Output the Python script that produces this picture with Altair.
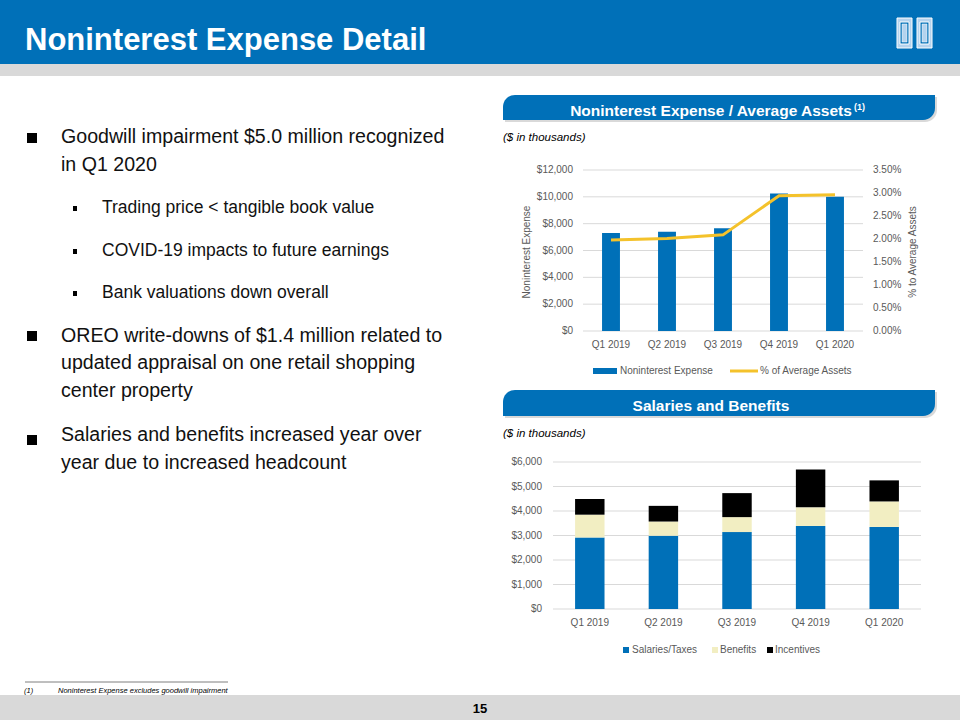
import altair as alt
import pandas as pd

# ---------------- data ----------------
quarters = ["Q1 2019", "Q2 2019", "Q3 2019", "Q4 2019", "Q1 2020"]
noninterest_expense = [7300, 7400, 7650, 10250, 10000]
pct_of_avg_assets = [0.0198, 0.0201, 0.0209, 0.0294, 0.0296]
salaries_taxes = [2920, 2990, 3140, 3390, 3350]
benefits = [930, 580, 610, 760, 1040]
incentives = [640, 640, 980, 1540, 860]

top_left_ticks = [0, 2000, 4000, 6000, 8000, 10000, 12000]
top_right_ticks = [0, 0.005, 0.01, 0.015, 0.02, 0.025, 0.03, 0.035]
bottom_ticks = [0, 1000, 2000, 3000, 4000, 5000, 6000]

components = ["Salaries/Taxes", "Benefits", "Incentives"]
component_colors = ["#0070B8", "#F2EEC2", "#000000"]

slide_title = "Noninterest Expense Detail"
top_title = "Noninterest Expense / Average Assets"
bottom_title = "Salaries and Benefits"
units_note = "($ in thousands)"
footnote = "Noninterest Expense excludes goodwill impairment"
page_number = "15"

bullet_lines = [
    "Goodwill impairment $5.0 million recognized",
    "in Q1 2020",
    "Trading price < tangible book value",
    "COVID-19 impacts to future earnings",
    "Bank valuations down overall",
    "OREO write-downs of $1.4 million related to",
    "updated appraisal on one retail shopping",
    "center property",
    "Salaries and benefits increased year over",
    "year due to increased headcount",
]
bullet_levels = [0, 0, 1, 1, 1, 0, 0, 0, 0, 0]

# ---------------- layout (pixels) ----------------
F = "Liberation Sans, Arial, sans-serif"
BLUE = "#0070B8"
GREY_TXT = "#595959"
GRID = "#D9D9D9"
LBL = 10

line_baselines = [143, 171, 213, 256, 298, 342, 369, 397, 441, 469]
main_bullet_tops = [133, 331, 435]
sub_bullet_tops = [206, 249, 291]

one = pd.DataFrame({"k": [0]})


def rect(x, x2, y, y2, **kw):
    return alt.Chart(one).mark_rect(**kw).encode(
        x=alt.value(x), x2=alt.value(x2), y=alt.value(y), y2=alt.value(y2)
    )


def txt(s, x, y, size, color="#000000", weight="normal", style="normal",
        align="left", baseline="alphabetic", angle=0):
    return alt.Chart(pd.DataFrame({"t": [s]})).mark_text(
        font=F, fontSize=size, fontWeight=weight, fontStyle=style, color=color,
        align=align, baseline=baseline, angle=angle
    ).encode(x=alt.value(x), y=alt.value(y), text="t:N")


layers = []

# header / footer bands
layers.append(rect(0, 960, 0, 64, color=BLUE))
layers.append(rect(0, 960, 64, 76, color="#D9D9D9"))
layers.append(rect(0, 960, 695, 720, color="#D9D9D9"))
layers.append(txt(slide_title, 25, 49.5, 31, color="#FFFFFF", weight="bold"))
layers.append(txt(page_number, 480, 713, 13, weight="bold", align="center"))

# logo (two pillars)
for px in (897, 917):
    layers.append(rect(px, px + 15, 18, 48, color="#B4D3EE", stroke="#FFFFFF", strokeWidth=1))
    layers.append(rect(px + 3, px + 12, 22, 44, fill=BLUE, stroke="#FFFFFF", strokeWidth=1))
    layers.append(rect(px + 5, px + 10, 24, 42, fill="#B4D3EE", stroke="#FFFFFF", strokeWidth=0.5))

# footnote
layers.append(alt.Chart(one).mark_rule(color="#7F7F7F", strokeWidth=1).encode(
    x=alt.value(25), x2=alt.value(228), y=alt.value(682)))
layers.append(txt("(1)", 24, 693, 7.5, style="italic"))
layers.append(txt(footnote, 58, 693, 7.5, style="italic"))

# bullets
for t in main_bullet_tops:
    layers.append(rect(27, 37, t, t + 10, color="#000000"))
for t in sub_bullet_tops:
    layers.append(rect(73, 77, t, t + 5, color="#000000"))
for s, lvl, yb in zip(bullet_lines, bullet_levels, line_baselines):
    layers.append(txt(s, 61 if lvl == 0 else 102, yb, 19.6 if lvl == 0 else 17.5, color="#111111"))

# section header bands
for (y0, y1, title, tb, nb) in ((95, 120, top_title, 115.5, 141), (390, 416, bottom_title, 411, 437)):
    layers.append(rect(505, 937, y0 + 2, y1 + 2, color="#BFBFBF", opacity=0.6,
                       cornerRadiusTopLeft=12, cornerRadiusBottomRight=12))
    layers.append(rect(503, 935, y0, y1, color=BLUE,
                       cornerRadiusTopLeft=12, cornerRadiusBottomRight=12))
    layers.append(txt(title, 711, tb, 15.5, color="#FFFFFF", weight="bold", align="center"))
    layers.append(txt(units_note, 503, nb, 11.5, color="#000000", style="italic"))
layers.append(txt("(1)", 854, 110, 9, color="#FFFFFF", weight="bold"))

# ---------------- top chart ----------------
X_TOP = alt.Scale(domain=quarters, range=[583, 863], paddingInner=0.68, paddingOuter=0.34)
Y_TOP_L = alt.Scale(domain=[0, 12000], range=[331, 170], nice=False, zero=True)
Y_TOP_R = alt.Scale(domain=[0, 0.035], range=[331, 170], nice=False, zero=True)

df_top = pd.DataFrame({"q": quarters, "expense": noninterest_expense, "pct": pct_of_avg_assets})
df_tl = pd.DataFrame({"v": top_left_ticks})
df_tr = pd.DataFrame({"v": top_right_ticks})
df_q = pd.DataFrame({"q": quarters})

layers.append(alt.Chart(df_tl).mark_rule(color=GRID, strokeWidth=1).encode(
    y=alt.Y("v:Q", scale=Y_TOP_L, axis=None), x=alt.value(583), x2=alt.value(863)))
layers.append(alt.Chart(df_tl).mark_text(font=F, fontSize=LBL, color=GREY_TXT, align="right",
                                         baseline="middle").encode(
    y=alt.Y("v:Q", scale=Y_TOP_L, axis=None), x=alt.value(573),
    text=alt.Text("v:Q", format="$,.0f")))
layers.append(alt.Chart(df_tr).mark_text(font=F, fontSize=LBL, color=GREY_TXT, align="left",
                                         baseline="middle").encode(
    y=alt.Y("v:Q", scale=Y_TOP_R, axis=None), x=alt.value(873),
    text=alt.Text("v:Q", format=".2%")))
layers.append(alt.Chart(df_q).mark_text(font=F, fontSize=LBL, color=GREY_TXT, align="center",
                                        baseline="middle").encode(
    x=alt.X("q:N", scale=X_TOP, axis=None), y=alt.value(345), text="q:N"))
layers.append(alt.Chart(df_top).mark_bar(color=BLUE).encode(
    x=alt.X("q:N", scale=X_TOP, axis=None),
    y=alt.Y("expense:Q", scale=Y_TOP_L, axis=None)))
layers.append(alt.Chart(df_top).mark_line(color="#F4C22B", strokeWidth=3).encode(
    x=alt.X("q:N", scale=X_TOP, axis=None),
    y=alt.Y("pct:Q", scale=Y_TOP_R, axis=None)))
layers.append(txt("Noninterest Expense", 527, 252, LBL, color=GREY_TXT, align="center",
                  baseline="middle", angle=270))
layers.append(txt("% to Average Assets", 913, 252, LBL, color=GREY_TXT, align="center",
                  baseline="middle", angle=270))
# legend
layers.append(rect(593, 617, 368, 374, color=BLUE))
layers.append(txt("Noninterest Expense", 620, 371, LBL, color=GREY_TXT, baseline="middle"))
layers.append(alt.Chart(one).mark_rule(color="#F4C22B", strokeWidth=3).encode(
    x=alt.value(730), x2=alt.value(758), y=alt.value(371)))
layers.append(txt("% of Average Assets", 760, 371, LBL, color=GREY_TXT, baseline="middle"))

# ---------------- bottom chart ----------------
X_BOT = alt.Scale(domain=quarters, range=[553, 921], paddingInner=0.6, paddingOuter=0.3)
Y_BOT = alt.Scale(domain=[0, 6000], range=[609, 462], nice=False, zero=True)

rows = []
for i, q in enumerate(quarters):
    for j, (c, vals) in enumerate(zip(components, [salaries_taxes, benefits, incentives])):
        rows.append({"q": q, "component": c, "value": vals[i], "idx": j})
df_bot = pd.DataFrame(rows)
df_bt = pd.DataFrame({"v": bottom_ticks})

layers.append(alt.Chart(df_bt).mark_rule(color=GRID, strokeWidth=1).encode(
    y=alt.Y("v:Q", scale=Y_BOT, axis=None), x=alt.value(553), x2=alt.value(921)))
layers.append(alt.Chart(df_bt).mark_text(font=F, fontSize=LBL, color=GREY_TXT, align="right",
                                         baseline="middle").encode(
    y=alt.Y("v:Q", scale=Y_BOT, axis=None), x=alt.value(542),
    text=alt.Text("v:Q", format="$,.0f")))
layers.append(alt.Chart(df_q).mark_text(font=F, fontSize=LBL, color=GREY_TXT, align="center",
                                        baseline="middle").encode(
    x=alt.X("q:N", scale=X_BOT, axis=None), y=alt.value(623), text="q:N"))
layers.append(alt.Chart(df_bot).mark_bar().encode(
    x=alt.X("q:N", scale=X_BOT, axis=None),
    y=alt.Y("value:Q", scale=Y_BOT, axis=None, stack="zero"),
    color=alt.Color("component:N", scale=alt.Scale(domain=components, range=component_colors),
                    legend=None),
    order=alt.Order("idx:Q")))
# legend
for (sx, lx), c, col in zip(((623, 632), (712, 720), (767, 775)), components, component_colors):
    layers.append(rect(sx, sx + 6, 647, 653, color=col))
    layers.append(txt(c, lx, 650, LBL, color=GREY_TXT, baseline="middle"))

chart = alt.layer(*layers).resolve_scale(
    x="independent", y="independent", color="independent"
).properties(
    width=960, height=720, padding=0,
    autosize=alt.AutoSizeParams(type="none"), background="#FFFFFF"
).configure_view(strokeWidth=0)

chart.save("out.html", embed_options={"renderer": "svg", "actions": False})
